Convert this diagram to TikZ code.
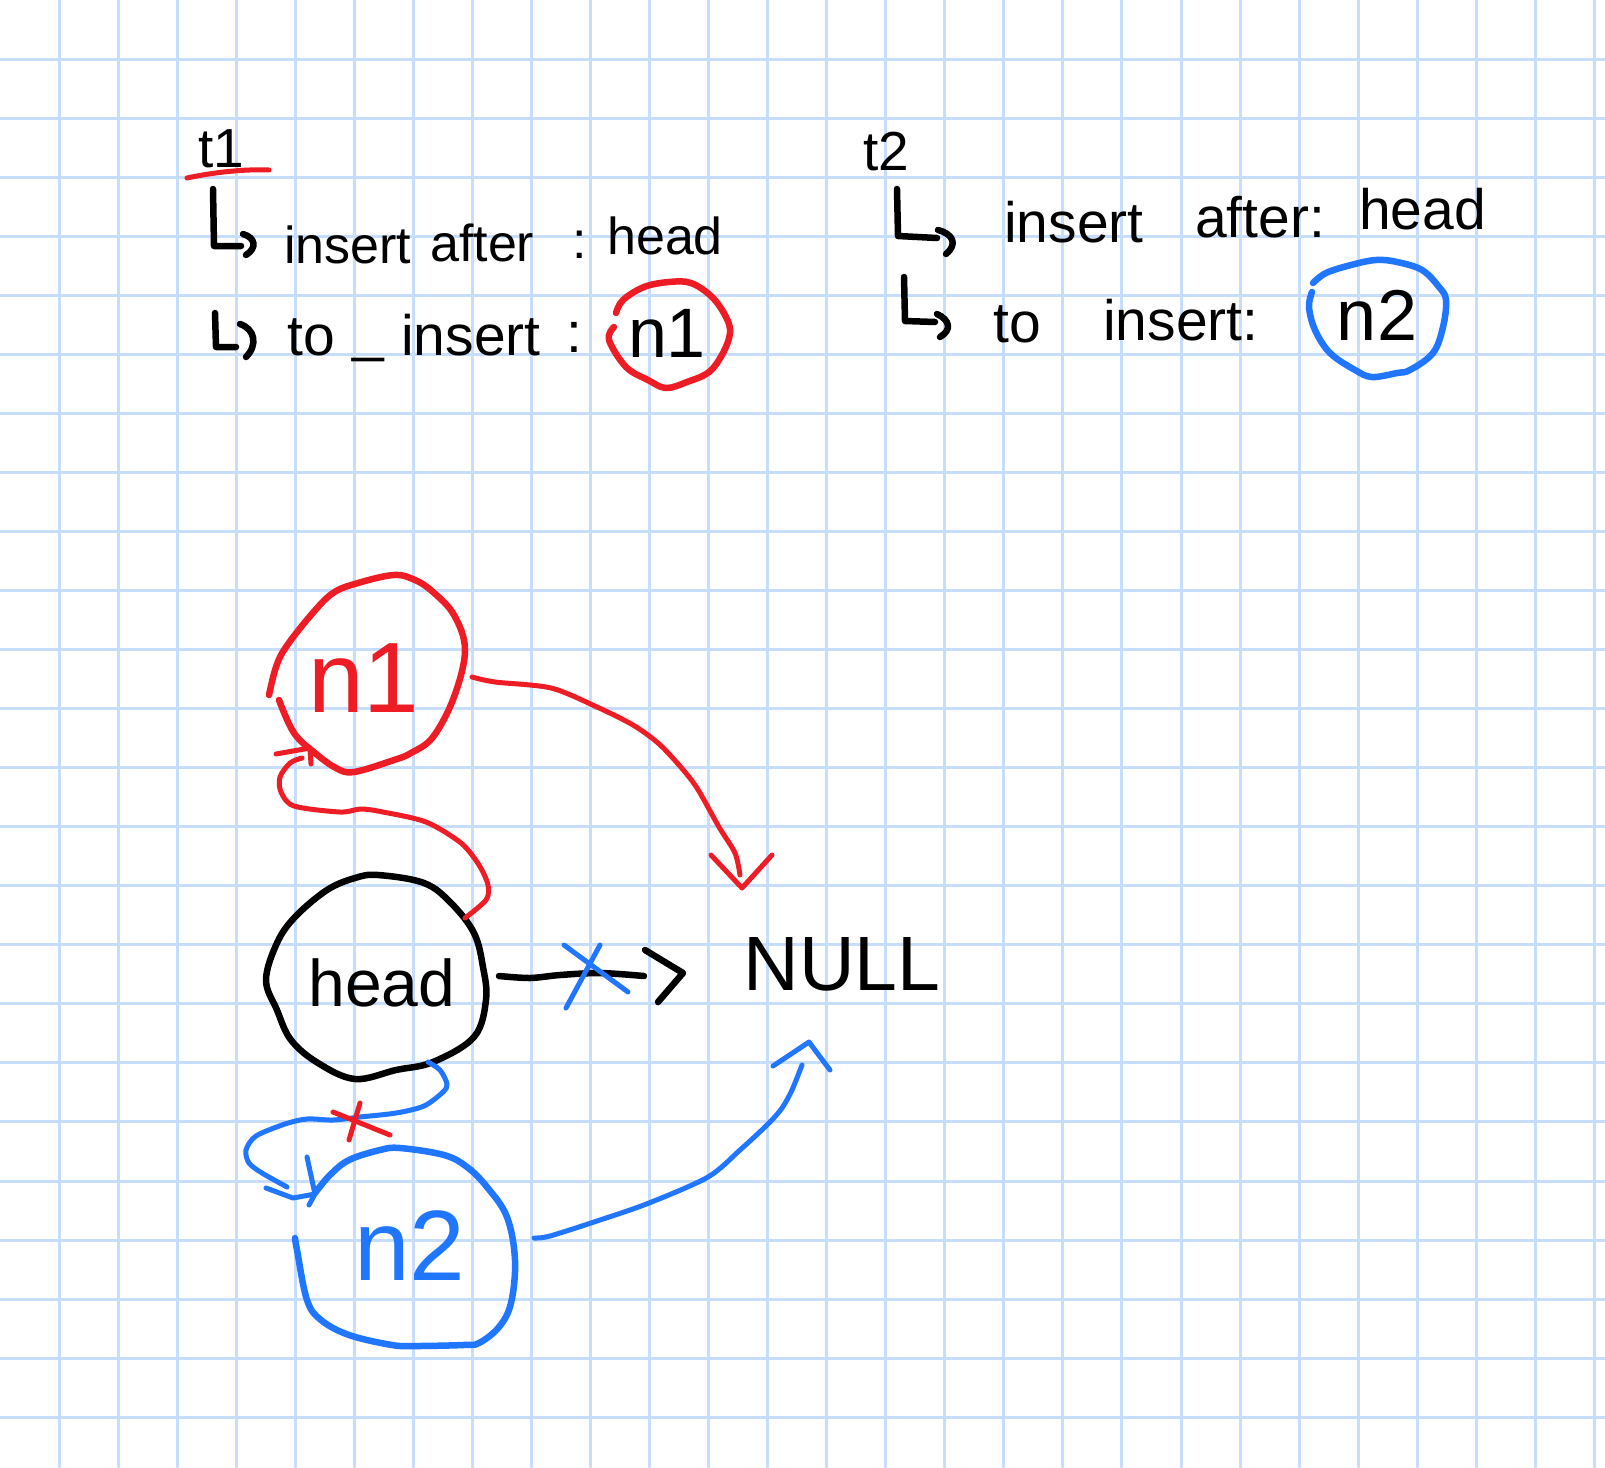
\documentclass[tikz,border=0pt]{standalone}
\usepackage{fontspec}
\setmainfont{Liberation Sans}
\definecolor{gridblue}{HTML}{C6DDFC}
\definecolor{penred}{HTML}{EE1C25}
\definecolor{penblue}{HTML}{2176FF}
\newcommand{\fs}[1]{\fontsize{#1}{#1}\selectfont}
\begin{document}
\begin{tikzpicture}[x=1pt,y=-1pt,line cap=round,line join=round,
  gridline/.style={draw=gridblue,line width=3pt},
  hw/.style={inner sep=0pt,anchor=base west},
  lbl/.style={inner sep=0pt,anchor=base},
  ink/.style={draw=black,line width=6.5pt},
  outline/.style={line width=6.5pt},
  redpen/.style={draw=penred,line width=5pt},
  bluepen/.style={draw=penblue,line width=5pt}]
\useasboundingbox (0,0) rectangle (1605,1467);
\fill[white] (0,0) rectangle (1605,1467);
\foreach \k in {1,...,27} \draw[gridline] (\k*59.05,0) -- (\k*59.05,1467);
\foreach \k in {1,...,24} \draw[gridline] (0,\k*59.05) -- (1605,\k*59.05);

% ---------- t1 ----------
\node[hw,font=\fs{55}] (t1) at (198,167) {t1};
\draw[redpen] (187,178) .. controls (215,172) and (245,169) .. (269,170);
\draw[ink] (213,189) -- (214,246) -- (241,246);
\draw[ink] (243,234) .. controls (256,238) and (257,248) .. (246,255);
\node[hw,font=\fs{52}] (t1a) at (284,263) {insert};
\node[hw,font=\fs{52}] (t1b) at (430,261) {after};
\node[hw,font=\fs{52}] (t1c) at (572,258) {:};
\node[hw,font=\fs{52}] (t1d) at (607,254) {head};
\draw[ink] (215,313) -- (216,347) -- (236,347);
\draw[ink] (240,324) .. controls (255,329) and (258,345) .. (246,357);
\node[hw,font=\fs{57}] (t1e) at (287,355) {to};
\node[hw,font=\fs{57}] (t1f) at (352,350) {\_};
\node[hw,font=\fs{57}] (t1g) at (401,355) {insert};
\node[hw,font=\fs{57}] (t1h) at (566,352) {:};
\node[lbl,font=\fs{70}] (c1) at (667,357) {n1};
\draw[redpen,outline] plot[smooth,tension=0.6] coordinates {(616,313) (623,300) (644,287) (669,282) (691,283) (712,297) (726,317) (730,333) (723,353) (709,372) (687,382) (666,388) (648,380) (626,367) (609,340) (614,327)};

% ---------- t2 ----------
\node[hw,font=\fs{55}] (t2) at (863,170) {t2};
\draw[ink] (897,189) -- (898,236) -- (937,238);
\draw[ink] (938,230) .. controls (953,234) and (958,244) .. (946,254);
\node[hw,font=\fs{57}] (t2a) at (1004,242) {insert};
\node[hw,font=\fs{57}] (t2b) at (1195,237) {after:};
\node[hw,font=\fs{57}] (t2c) at (1359,229) {head};
\draw[ink] (904,277) -- (905,321) -- (935,322);
\draw[ink] (937,314) .. controls (950,320) and (952,330) .. (940,337);
\node[hw,font=\fs{57}] (t2d) at (993,342) {to};
\node[hw,font=\fs{57}] (t2e) at (1103,340) {insert:};
\node[lbl,font=\fs{72}] (c2) at (1377,340) {n2};
\draw[bluepen,outline] plot[smooth,tension=0.6] coordinates {(1313,283) (1326,273) (1351,265) (1376,260) (1397,262) (1422,270) (1439,287) (1446,300) (1443,327) (1433,353) (1410,370) (1397,373) (1372,377) (1355,370) (1330,353) (1315,330) (1309,307) (1312,292)};

% ---------- nodes of the list ----------
\node[lbl,font=\fs{100},text=penred] (n1) at (364,712) {n1};
\draw[redpen,outline] plot[smooth,tension=0.6] coordinates {(269,695) (276,667) (286,647) (311,615) (333,593) (358,583) (394,575) (415,580) (433,592) (454,615) (465,650) (454,697) (433,737) (411,753) (394,760) (354,772) (336,768) (315,753) (294,733) (279,700)};

\node[lbl,font=\fs{66}] (head) at (382,1006) {head};
\draw[ink,outline] plot[smooth cycle,tension=0.6] coordinates {(378,875) (424,883) (451,903) (474,933) (483,967) (486,1000) (474,1037) (433,1062) (396,1070) (355,1079) (318,1063) (291,1040) (277,1010) (266,980) (277,943) (295,917) (327,890) (355,878)};

\node[lbl,font=\fs{77}] (null) at (842,990) {NULL};

\node[lbl,font=\fs{100},text=penblue] (n2) at (410,1280) {n2};
\draw[bluepen,outline] plot[smooth,tension=0.6] coordinates {(315,1193) (330,1175) (349,1160) (380,1150) (400,1148) (444,1155) (467,1167) (487,1187) (507,1217) (515,1260) (511,1303) (499,1327) (479,1343) (463,1345) (416,1346) (392,1345) (349,1335) (321,1320) (307,1300) (297,1250) (295,1238)};

% ---------- connectors ----------
% head -> NULL (crossed out)
\coordinate (hA) at (499,976);
\coordinate (hB) at (644,976);
\draw[ink] plot[smooth] coordinates {(hA) (530,978) (560,975) (600,973) (hB)};
\draw[ink] (645,950) -- (683,973) -- (658,1002);
\draw[bluepen] (564,945) -- (628,992);
\draw[bluepen] (600,945) -- (566,1008);

% n1 -> NULL
\coordinate (rA) at (472,677);
\coordinate (rB) at (742,888);
\draw[redpen] plot[smooth] coordinates {(rA) (495,682) (551,688) (597,707) (633,725) (658,743) (679,765) (697,788) (719,827) (735,853) (740,875)};
\draw[redpen] (711,855) -- (rB) -- (772,855);

% head -> n1
\coordinate (lA) at (465,918);
\coordinate (lB) at (310,748);
\draw[redpen] plot[smooth] coordinates {(lA) (486,900) (488,885) (479,865) (461,843) (426,822) (383,812) (361,809) (340,812) (294,806) (281,792) (280,777) (290,763) (302,758)};
\draw[redpen] (276,754) -- (lB);
\draw[redpen] (311,764) -- (lB);

% n2 -> NULL
\coordinate (bA) at (534,1238);
\coordinate (bB) at (809,1042);
\draw[bluepen] plot[smooth] coordinates {(bA) (550,1236) (600,1220) (649,1203) (708,1177) (740,1150) (768,1124) (782,1108) (792,1090) (802,1065)};
\draw[bluepen] (773,1066) -- (bB) -- (830,1070);

% head -> n2 (crossed out)
\coordinate (qA) at (428,1062);
\coordinate (qB) at (315,1194);
\draw[bluepen] plot[smooth] coordinates {(qA) (440,1070) (447,1084) (443,1092) (424,1106) (396,1113) (360,1117) (333,1120) (307,1119) (285,1124) (256,1136) (246,1150) (249,1163) (262,1173) (287,1187)};
\draw[bluepen] (266,1188) -- (293,1198) -- (qB);
\draw[bluepen] (307,1157) -- (qB) -- (309,1205);
\draw[redpen] (333,1112) -- (390,1135);
\draw[redpen] (360,1103) -- (349,1140);
\end{tikzpicture}
\end{document}
